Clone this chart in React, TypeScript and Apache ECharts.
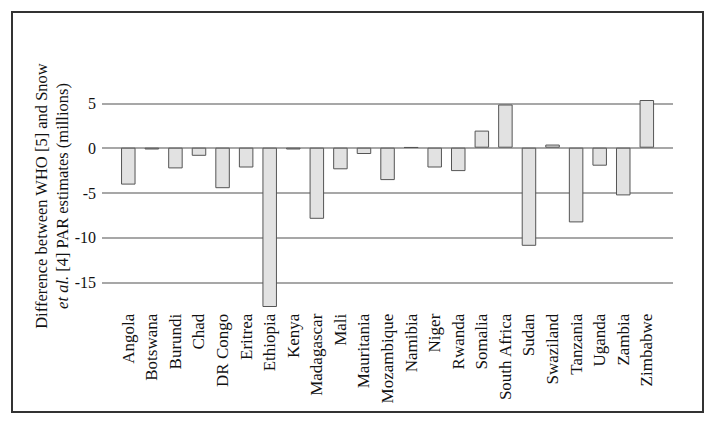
import React, { useEffect, useRef } from "react";
import * as echarts from "echarts";

const countries = [
  "Angola", "Botswana", "Burundi", "Chad", "DR Congo", "Eritrea", "Ethiopia",
  "Kenya", "Madagascar", "Mali", "Mauritania", "Mozambique", "Namibia", "Niger",
  "Rwanda", "Somalia", "South Africa", "Sudan", "Swaziland", "Tanzania",
  "Uganda", "Zambia", "Zimbabwe",
];
const differences = [
  -4.1, -0.2, -2.3, -0.9, -4.5, -2.2, -17.7,
  -0.2, -7.9, -2.4, -0.7, -3.6, 0.05, -2.2,
  -2.6, 1.9, 4.8, -10.9, 0.35, -8.3,
  -2.0, -5.3, 5.3,
];
const yTicks = { min: -15, max: 5, interval: 5 };

const FONT = "'Liberation Serif', 'Times New Roman', serif";

export default function App() {
  const ref = useRef<HTMLDivElement>(null);
  useEffect(() => {
    if (!ref.current) return;
    const chart = echarts.init(ref.current, null, { renderer: "svg" });
    chart.setOption({
      animation: false,
      backgroundColor: "#ffffff",
      grid: [
        { left: 102, right: 43, top: 103.3, bottom: 140.3 },
        { left: 116.5, right: 57.4, top: 93.7, bottom: 113.3 },
      ],
      xAxis: [
        { type: "value", gridIndex: 0, show: false, min: 0, max: 1 },
        {
          type: "category",
          gridIndex: 1,
          data: countries,
          axisLine: { show: false },
          axisTick: { show: false },
          axisLabel: {
            rotate: 90,
            interval: 0,
            margin: 4,
            fontFamily: FONT,
            fontSize: 17,
            color: "#111",
          },
        },
      ],
      yAxis: [
        {
          type: "value",
          gridIndex: 0,
          min: yTicks.min,
          max: yTicks.max,
          interval: yTicks.interval,
          axisLine: { show: false },
          axisTick: { show: false },
          axisLabel: { margin: 6, fontFamily: FONT, fontSize: 16, color: "#111" },
          splitLine: { lineStyle: { color: "#8a8a8a", width: 1.5 } },
        },
        {
          type: "value",
          gridIndex: 1,
          min: -18,
          max: 6,
          show: false,
          splitLine: { show: false },
        },
      ],
      series: [
        {
          type: "bar",
          xAxisIndex: 1,
          yAxisIndex: 1,
          data: differences,
          barWidth: 14.5,
          itemStyle: { color: "#e2e2e2", borderColor: "#555", borderWidth: 1 },
        },
      ],
      graphic: [
        {
          type: "rect",
          shape: { x: 12, y: 12, width: 691, height: 400 },
          style: { fill: "none", stroke: "#333", lineWidth: 2 },
          silent: true,
        },
        {
          type: "text",
          x: 51.5,
          y: 196,
          rotation: Math.PI / 2,
          style: {
            text: "{n|Difference between WHO [5] and Snow}\n{i|et al.}{n| [4] PAR estimates (millions)}",
            align: "center",
            verticalAlign: "middle",
            fill: "#111",
            rich: {
              n: { fontFamily: FONT, fontSize: 16.5, lineHeight: 21, fill: "#111" },
              i: { fontFamily: FONT, fontSize: 16.5, lineHeight: 21, fontStyle: "italic", fill: "#111" },
            },
          },
        },
      ],
    });
    return () => chart.dispose();
  }, []);
  return (
    <div
      ref={ref}
      style={{ position: "fixed", left: 0, top: 0, width: 716, height: 423 }}
    />
  );
}
